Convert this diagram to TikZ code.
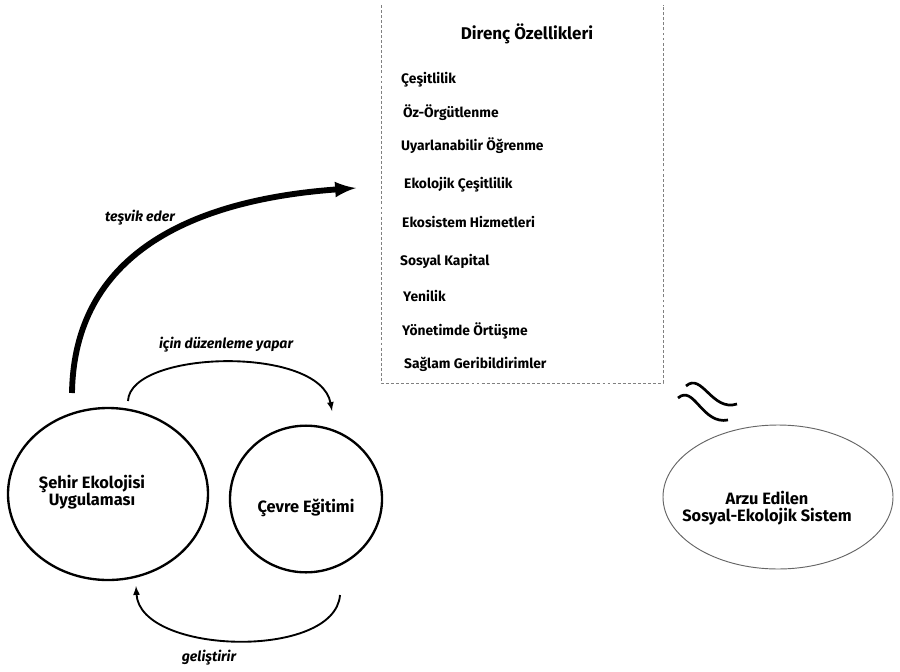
\documentclass[tikz,border=0pt]{standalone}
\usepackage{fontspec}
\setmainfont{Fira Sans}
\usetikzlibrary{arrows,shapes}

\tikzset{
	madde/.style={anchor=west,inner sep=0pt,font=\bfseries\fontsize{11.8}{14}\selectfont},
	daire/.style={ellipse,draw,line width=2pt,inner sep=0pt},
	yazi/.style={inner sep=0pt,align=center,font=\bfseries\fontsize{14}{15}\selectfont},
	fiil/.style={inner sep=0pt,font=\bfseries\itshape\fontsize{12}{14}\selectfont},
	ok/.style={-latex,line width=1.6pt},
}

\begin{document}
\begin{tikzpicture}[x=0.03cm,y=-0.03cm]

	\useasboundingbox (0,0) rectangle (900,671);

	% direnc kutusu
	\draw[gray,line width=0.8pt,dash pattern=on 2.5pt off 1.8pt] (381,5) -- (381,383) -- (663,383) -- (663,5);
	\node[inner sep=0pt,font=\bfseries\fontsize{14.5}{16}\selectfont] (baslik) at (527,34) {Direnç Özellikleri};
	\node[madde] (m1) at (401,80) {Çeşitlilik};
	\node[madde] (m2) at (403,113) {Öz-Örgütlenme};
	\node[madde] (m3) at (401,146) {Uyarlanabilir Öğrenme};
	\node[madde] (m4) at (404,185) {Ekolojik Çeşitlilik};
	\node[madde] (m5) at (402,222) {Ekosistem Hizmetleri};
	\node[madde] (m6) at (400,261) {Sosyal Kapital};
	\node[madde] (m7) at (403,296) {Yenilik};
	\node[madde] (m8) at (402,331) {Yönetimde Örtüşme};
	\node[madde] (m9) at (404,364) {Sağlam Geribildirimler};

	% daireler
	\node[daire,minimum width=6cm,minimum height=5.16cm] (sehir) at (108,494) {};
	\node[yazi] (sehirYazi) at (92,492) {Şehir Ekolojisi\\Uygulaması};
	\node[daire,minimum width=4.56cm,minimum height=4.4cm] (cevre) at (306,499) {};
	\node[yazi] (cevreYazi) at (306,508) {Çevre Eğitimi};
	\node[daire,draw=black!60,line width=0.8pt,minimum width=6.9cm,minimum height=4.32cm] (sistem) at (778,497) {};
	\node[yazi] (sistemYazi) at (767,508) {Arzu Edilen\\Sosyal-Ekolojik Sistem};

	% oklar
	\coordinate (t1) at (72,393);
	\coordinate (t2) at (356,188);
	\draw[-latex,line width=5pt] (t1) .. controls (74,255) and (190,200) .. (t2);
	\node[fiil] (tesvik) at (140,218) {teşvik eder};

	\coordinate (d1) at (128,401);
	\coordinate (d2) at (332,411);
	\draw[ok] (d1) .. controls (130,350) and (320,345) .. (d2);
	\node[fiil] (duzen) at (226,345) {için düzenleme yapar};

	\coordinate (g1) at (340,595);
	\coordinate (g2) at (136,586);
	\draw[ok] (g1) .. controls (335,660) and (140,655) .. (g2);
	\node[fiil] (gelis) at (209,658) {geliştirir};

	% yaklasik
	\coordinate (w1) at (686,386);
	\coordinate (w2) at (737,404);
	\coordinate (w3) at (678,398);
	\coordinate (w4) at (728,420);
	\draw[line width=2.3pt] (w1) .. controls (702,372) and (712,412) .. (w2);
	\draw[line width=2.3pt] (w3) .. controls (694,384) and (702,425) .. (w4);

\end{tikzpicture}
\end{document}
